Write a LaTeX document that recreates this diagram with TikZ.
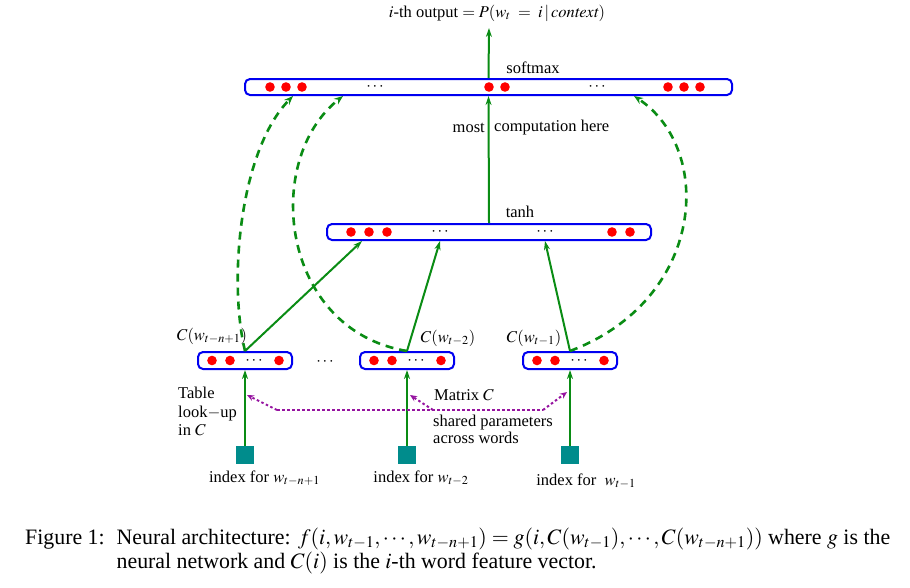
\documentclass[tikz,border=0pt]{standalone}
\usepackage{mathptmx}
\usepackage{fontspec}
\setmainfont{Liberation Serif}
\usepackage{graphicx}
\usetikzlibrary{arrows.meta}

\definecolor{netgreen}{RGB}{10,140,20}
\definecolor{netblue}{RGB}{0,0,240}
\definecolor{netpurple}{RGB}{150,20,160}
\definecolor{netteal}{RGB}{0,140,140}

\tikzset{
  layer/.style={draw=netblue, line width=2pt, rounded corners=5pt, minimum height=16pt, inner sep=0pt},
  feed/.style={netgreen, line width=2pt, -{Stealth[length=9pt,width=6pt]}},
  skip/.style={netgreen, line width=2.6pt, dash pattern=on 8pt off 6pt, -{Stealth[length=9pt,width=7pt]}},
  shared/.style={netpurple, line width=2pt, dash pattern=on 2.5pt off 2.5pt},
  sharedtip/.style={shared, -{Stealth[length=7pt,width=6pt]}},
  wordindex/.style={fill=netteal, minimum size=18pt, inner sep=0pt},
  lbl/.style={font=\fontsize{16.5}{18.5}\selectfont, inner sep=0pt},
}

\begin{document}
\begin{tikzpicture}[x=1pt,y=-1pt]
    \useasboundingbox (0,0) rectangle (910,587);

    % layers
    \node[layer, minimum width=487pt] (softmax) at (488.5,87) {};
    \node[layer, minimum width=324pt] (hidden) at (489,232) {};
    \foreach \x in {270,286,302,489,505,668,684,700} \fill[red] (\x,87) circle (4.8);
    \foreach \x in {351,369,387,612,630} \fill[red] (\x,232) circle (4.8);
    \node[lbl] at (375,87) {$\cdots$};
    \node[lbl] at (597,87) {$\cdots$};
    \node[lbl] at (440,232) {$\cdots$};
    \node[lbl] at (545,232) {$\cdots$};
    \node[lbl] (softmaxlbl) at (533,68) {softmax};
    \node[lbl] (tanhlbl) at (520,212) {tanh};

    % word feature vectors and indices
    \foreach \n/\x in {first/245,second/407,last/570} {
        \node[layer, minimum width=94pt, minimum height=17pt] (\n) at (\x,360.5) {};
        \foreach \dx in {-33,-15,34} \fill[red] (\x+\dx,360.5) circle (4.8);
        \node[lbl] at (\x+9,360.5) {$\cdots$};
        \node[wordindex] (\n idx) at (\x,455) {};
        \draw[feed] (\n idx.north) -- (\n.south);
    }
    \node[lbl] at (325,362) {$\cdots$};

    \node[lbl] (cfirst) at (212,336) {$C(w_{t-n+1})$};
    \node[lbl] (csecond) at (448,338) {$C(w_{t-2})$};
    \node[lbl] (clast) at (534,338) {$C(w_{t-1})$};
    \node[lbl] (ifirst) at (264.5,478) {index for $w_{t-n+1}$};
    \node[lbl] (isecond) at (421,478) {index for $w_{t-2}$};
    \node[lbl] (ilast) at (586,481) {index for \ $w_{t-1}$};

    % output
    \node[lbl] (output) at (497,13) {$i$-th output $= P(w_t\;=\;i\,|\,\mathit{context})$};
    \coordinate (outtip) at (489,28);
    \draw[feed] (softmax.north) -- (outtip);
    \draw[feed] (hidden.north) -- (softmax.south);
    \node[lbl, anchor=east] (most) at (485,128) {most};
    \node[lbl, anchor=west] (comp) at (494,128) {computation here};

    % into the hidden layer
    \draw[feed] (first.north) -- ([xshift=-127pt]hidden.south);
    \draw[feed] (second.north) -- ([xshift=-49pt]hidden.south);
    \draw[feed] (last.north) -- ([xshift=56pt]hidden.south);

    % direct connections
    \draw[skip] (first.north) .. controls (228,280) and (240,150) .. ([xshift=-195.5pt]softmax.south);
    \draw[skip] (second.north) .. controls (280,330) and (262,160) .. ([xshift=-145.5pt]softmax.south);
    \draw[skip] (last.north) .. controls (705,300) and (715,150) .. ([xshift=145.5pt]softmax.south);

    % shared matrix C
    \coordinate (sharedl) at (277,410);
    \coordinate (sharedm) at (433,410);
    \coordinate (sharedr) at (543,410);
    \coordinate (tipfirst) at (247,395);
    \coordinate (tipsecond) at (410,395);
    \coordinate (tiplast) at (567,392);
    \draw[shared] (sharedl) -- (sharedr);
    \draw[sharedtip] (sharedl) -- (tipfirst);
    \draw[sharedtip] (sharedm) -- (tipsecond);
    \draw[sharedtip] (sharedr) -- (tiplast);

    \node[lbl, anchor=north west, align=left] (table) at (178,387) {Table\\ look$-$up\\ in $C$};
    \node[lbl, anchor=west] (matrix) at (434,395) {Matrix $C$};
    \node[lbl, anchor=north west, align=left, font=\fontsize{16.5}{17}\selectfont] (across) at (433,415) {shared parameters\\across words};

    % caption
    \node[anchor=north west, inner sep=0pt] (caption) at (25,527) {\resizebox{865pt}{\height}{\fontsize{22}{24}\selectfont
        \begin{tabular}{@{}l@{\hspace{12pt}}l@{}}
        Figure 1: & Neural architecture: $f(i,w_{t-1},\cdots,w_{t-n+1})=g(i,C(w_{t-1}),\cdots,C(w_{t-n+1}))$ where $g$ is the\\
        & neural network and $C(i)$ is the $i$-th word feature vector.
        \end{tabular}}};
\end{tikzpicture}
\end{document}
